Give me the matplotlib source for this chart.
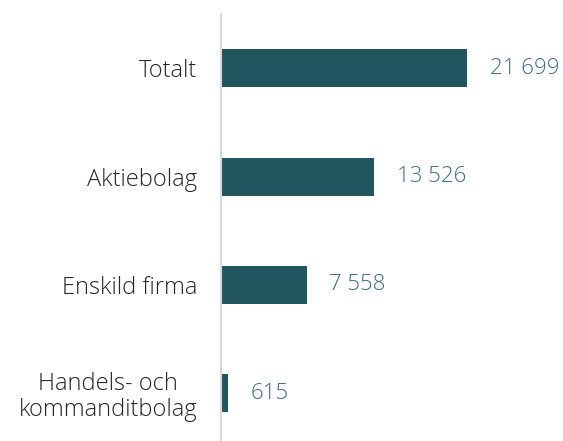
import matplotlib
matplotlib.use("Agg")
from matplotlib import pyplot as plt

categories = ["Totalt", "Aktiebolag", "Enskild firma", "Handels- och\nkommanditbolag"]
values = [21699, 13526, 7558, 615]
value_labels = ["21 699", "13 526", "7 558", "615"]

plt.rcParams['font.family'] = ['Open Sans', 'DejaVu Sans']

fig = plt.figure(figsize=(5.63, 4.41), dpi=100)
ax = fig.add_axes([221 / 563, 0.0, 1 - 221 / 563, 1 - 14 / 441])

pos = range(len(categories))
ax.barh(pos, values, height=0.35, color="#22565e")
for p, v, t in zip(pos, values, value_labels):
    ax.text(v + 2000, p, t, va="center", ha="left", fontsize=16,
            color="#3d6e75", fontweight="light")

ax.set_xlim(0, 30160)
ax.set_ylim(3.44, -0.5)
ax.set_yticks(list(pos))
ax.set_yticklabels(categories, fontsize=17, color="#262626", fontweight="light",
                   multialignment="center", linespacing=1.1)
ax.tick_params(axis="y", length=0, pad=17)
ax.set_xticks([])
for s in ["top", "right", "bottom"]:
    ax.spines[s].set_visible(False)
ax.spines["left"].set_color("#d9d9d9")
ax.spines["left"].set_linewidth(1.5)

fig.savefig("out.png", dpi=100)
